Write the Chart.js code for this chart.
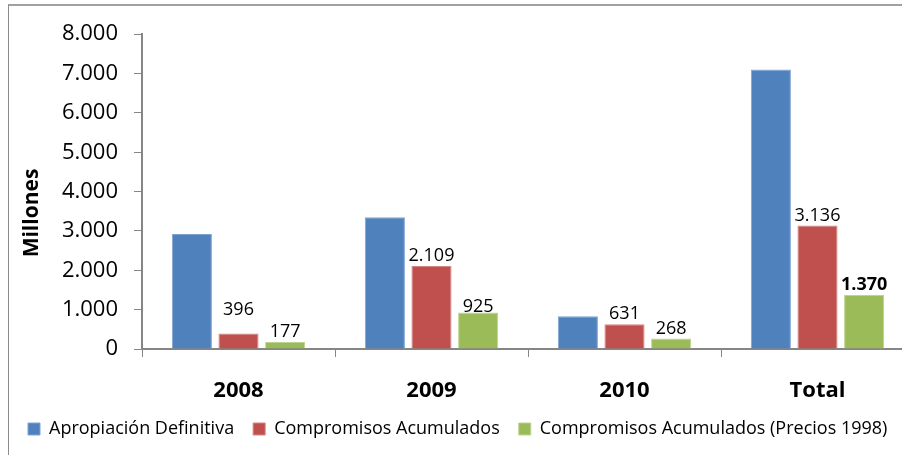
<!DOCTYPE html>
<html>
<head>
<meta charset="utf-8">
<script src="https://cdn.jsdelivr.net/npm/chart.js@4"></script>
<style>
  html, body { margin: 0; padding: 0; background: #fff; overflow: hidden; }
  body { width: 902px; height: 455px; position: relative; }
  #frame { position: absolute; left: 8px; top: 4px; width: 960px; height: 470px;
           border-left: 1px solid #8c8c8c; border-top: 2px solid #a0a0a0; }
  #wrap { position: absolute; left: 9px; top: 5px; width: 940px; height: 450px; }
</style>
</head>
<body>
<div id="frame"></div>
<div id="wrap"><canvas id="myBarChart"></canvas></div>
<script>
// Chart data
const categories = ['2008', '2009', '2010', 'Total'];
const apropiacion = [2920, 3350, 830, 7100];
const compromisos = [396, 2109, 631, 3136];
const compromisos1998 = [177, 925, 268, 1370];
const yTicks = [0, 1000, 2000, 3000, 4000, 5000, 6000, 7000, 8000];

// small nudges for the data labels (Excel moved a couple by hand)
const redLift = [14, 0, 0, 0];
const greenLift = [0, -4, 0, 0];

const axisGray = '#868686';
const font = 'Open Sans';

// 8000 -> "8.000"
function fmt(v) {
  return String(v).replace(/\B(?=(\d{3})+(?!\d))/g, '.');
}

// Draws value labels over the red and green bars
const valueLabels = {
  id: 'valueLabels',
  afterDatasetsDraw(chart) {
    const ctx = chart.ctx;
    ctx.save();
    ctx.fillStyle = '#000';
    ctx.textAlign = 'center';
    ctx.textBaseline = 'bottom';
    [1, 2].forEach(di => {
      const meta = chart.getDatasetMeta(di);
      const lifts = di === 1 ? redLift : greenLift;
      meta.data.forEach((bar, i) => {
        const bold = di === 2 && i === categories.length - 1;
        ctx.font = (bold ? 'bold ' : '') + '18px "' + font + '"';
        const v = chart.data.datasets[di].data[i];
        ctx.fillText(fmt(v), bar.x, bar.y - 1 - lifts[i]);
      });
    });
    ctx.restore();
  }
};

// y-axis title, placed like the Excel original (a bit below centre)
const yTitle = {
  id: 'yTitle',
  afterDraw(chart) {
    const ctx = chart.ctx;
    const area = chart.chartArea;
    ctx.save();
    ctx.translate(area.left - 110, area.bottom - 136);
    ctx.rotate(-Math.PI / 2);
    ctx.font = 'bold 21px "' + font + '"';
    ctx.fillStyle = '#000';
    ctx.textAlign = 'center';
    ctx.textBaseline = 'middle';
    ctx.fillText('Millones', 0, 0);
    ctx.restore();
  }
};

const ctx = document.getElementById('myBarChart').getContext('2d');

let myBarChart = new Chart(ctx, {
  type: 'bar',
  data: {
    labels: categories,
    datasets: [{
      label: 'Apropiación Definitiva',
      data: apropiacion,
      backgroundColor: '#4F81BD',
      borderColor: '#7fa3d1',
      borderWidth: 1,
    },
    {
      label: 'Compromisos Acumulados',
      data: compromisos,
      backgroundColor: '#C0504D',
      borderColor: '#d68583',
      borderWidth: 1,
    },
    {
      label: 'Compromisos Acumulados (Precios 1998)',
      data: compromisos1998,
      backgroundColor: '#9BBB59',
      borderColor: '#bcd491',
      borderWidth: 1,
    }]
  },
  options: {
    responsive: true,
    maintainAspectRatio: false,
    animation: false,
    categoryPercentage: 0.725,
    barPercentage: 0.86,
    layout: {
      padding: { left: 0, right: 35, top: 23, bottom: 7 }
    },
    scales: {
      x: {
        grid: {
          offset: true,
          drawOnChartArea: false,
          drawTicks: true,
          tickLength: 8,
          color: axisGray,
        },
        border: { color: axisGray, width: 2 },
        ticks: {
          color: '#000',
          padding: 21,
          font: { family: font, size: 22, weight: 'bold' }
        },
        afterFit(scale) { scale.height = 52; }
      },
      y: {
        min: 0,
        max: 8000,
        afterBuildTicks(scale) { scale.ticks = yTicks.map(v => ({ value: v })); },
        grid: {
          drawOnChartArea: false,
          drawTicks: true,
          tickLength: 8,
          color: axisGray,
        },
        border: { color: axisGray, width: 2 },
        ticks: {
          color: '#000',
          padding: 16,
          font: { family: font, size: 22 },
          callback: v => fmt(v)
        },
        afterFit(scale) { scale.width = 133; }
      }
    },
    plugins: {
      legend: {
        display: true,
        position: 'bottom',
        align: 'start',
        labels: {
          color: '#000',
          boxWidth: 12,
          boxHeight: 12,
          padding: 19,
          font: { family: font, size: 18 }
        }
      },
      tooltip: { enabled: false }
    }
  },
  plugins: [valueLabels, yTitle]
});
</script>
</body>
</html>
